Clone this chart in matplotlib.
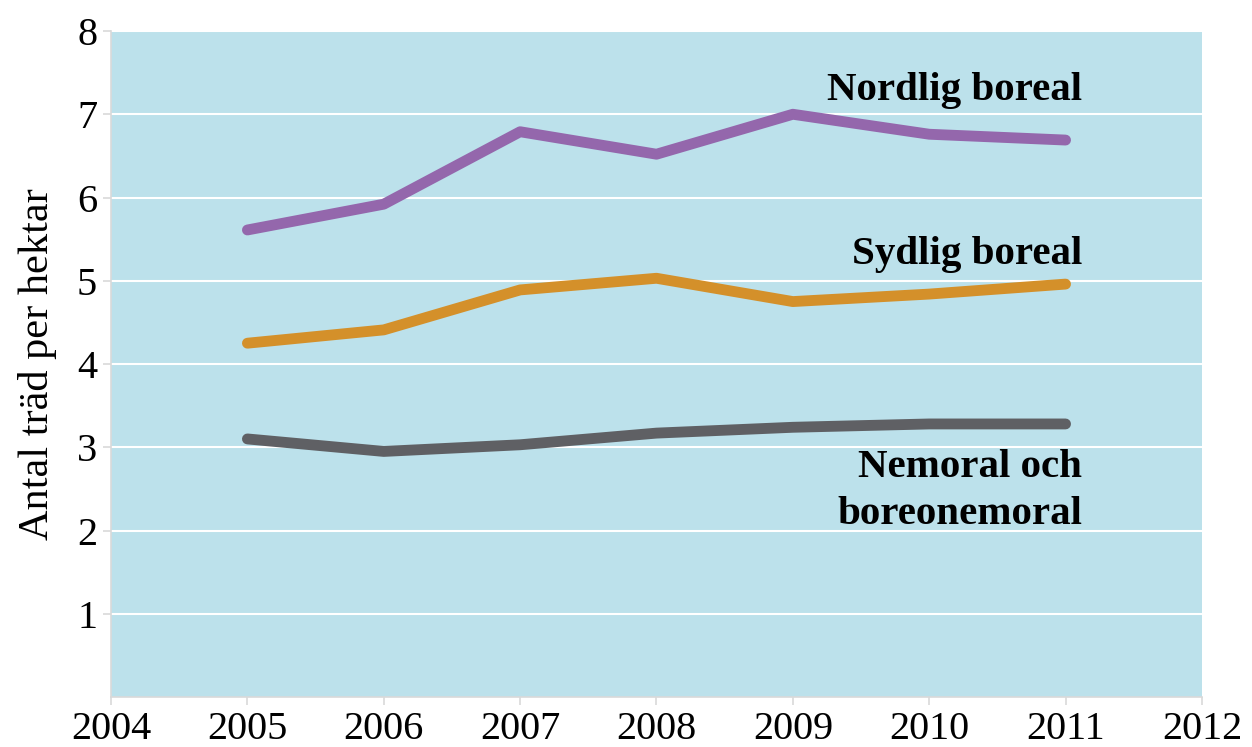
import matplotlib
matplotlib.use("Agg")
import matplotlib.pyplot as plt

years = [2005, 2006, 2007, 2008, 2009, 2010, 2011]
nordlig = [5.61, 5.92, 6.79, 6.52, 7.00, 6.76, 6.69]
sydlig = [4.25, 4.41, 4.89, 5.03, 4.75, 4.84, 4.96]
nemoral = [3.10, 2.95, 3.03, 3.17, 3.24, 3.28, 3.28]
xticks = [2004, 2005, 2006, 2007, 2008, 2009, 2010, 2011, 2012]
yticks = [1, 2, 3, 4, 5, 6, 7, 8]

plt.rcParams['font.family'] = ['Liberation Serif', 'DejaVu Serif']

fig = plt.figure(figsize=(12.52, 7.47), dpi=100)
ax = fig.add_axes([0.0887, 0.0669, 0.8713, 0.8916])
ax.set_facecolor('#BCE1EB')

for v in yticks:
    ax.axhline(v, color='white', lw=1.5, zorder=1)

ax.plot(years, nordlig, color='#9467AC', lw=7.8, solid_capstyle='round', zorder=3)
ax.plot(years, sydlig, color='#D4902A', lw=7.8, solid_capstyle='round', zorder=3)
ax.plot(years, nemoral, color='#5F6064', lw=7.8, solid_capstyle='round', zorder=3)

ax.set_xlim(2004, 2012)
ax.set_ylim(0, 8)
ax.set_xticks(xticks)
ax.set_xticklabels([str(x) for x in xticks])
ax.set_yticks(yticks)
ax.set_yticklabels([str(y) for y in yticks])
ax.tick_params(axis='both', labelsize=29, color='#D9D9D9', length=6, width=1.2, pad=4)
for s in ['top', 'right']:
    ax.spines[s].set_visible(False)
for s in ['left', 'bottom']:
    ax.spines[s].set_color('#D9D9D9')
    ax.spines[s].set_linewidth(1.2)

ax.set_ylabel('Antal träd per hektar', fontsize=30.5, labelpad=14)

ax.text(2011.12, 7.29, 'Nordlig boreal', ha='right', va='center', fontsize=29.5, fontweight='bold')
ax.text(2011.12, 5.32, 'Sydlig boreal', ha='right', va='center', fontsize=29.5, fontweight='bold')
ax.text(2011.12, 2.47, 'Nemoral och\nboreonemoral', ha='right', va='center', fontsize=29.5,
        fontweight='bold', multialignment='right', linespacing=1.35)

fig.savefig('out.png', dpi=100)
